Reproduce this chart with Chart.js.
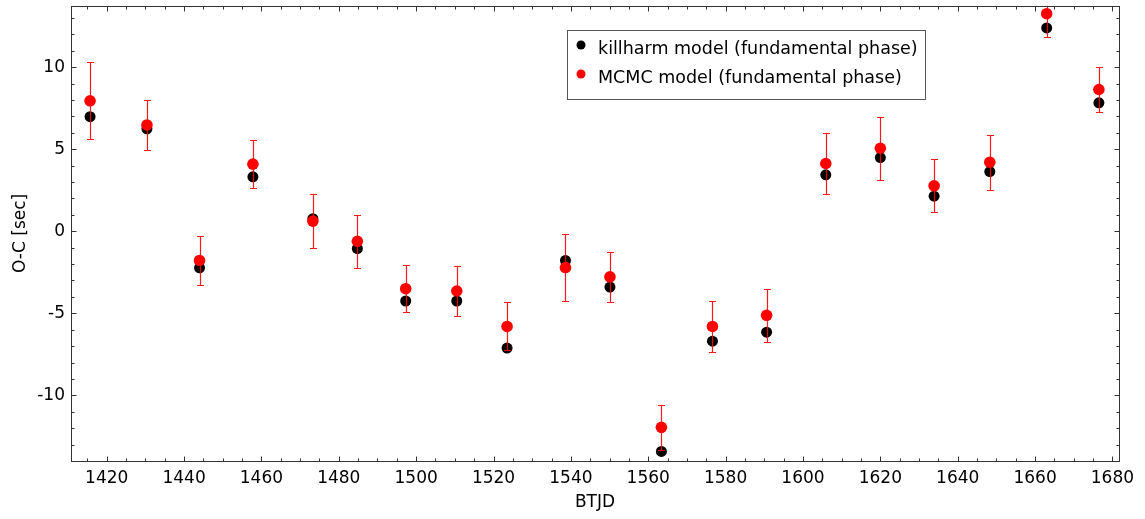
<!DOCTYPE html>
<html>
<head>
<meta charset="utf-8">
<script src="https://cdn.jsdelivr.net/npm/chart.js@4.4.1/dist/chart.umd.min.js"></script>
<style>
  html, body { margin: 0; padding: 0; background: #fff; }
  #wrap { width: 1145px; height: 519px; }
</style>
</head>
<body>
<div id="wrap"><canvas id="c" width="1145" height="519"></canvas></div>
<script>
// Observation epochs (BTJD) and O-C residuals in seconds
const btjd = [1415.7, 1430.4, 1444.0, 1457.8, 1473.3, 1484.8, 1497.3, 1510.5, 1523.5, 1538.6,
              1550.1, 1563.4, 1576.6, 1590.6, 1605.9, 1620.0, 1633.9, 1648.3, 1663.0, 1676.5];
const killharm = [6.98, 6.24, -2.23, 3.32, 0.77, -1.05, -4.25, -4.25, -7.12, -1.78,
                  -3.40, -13.42, -6.70, -6.15, 3.44, 4.49, 2.14, 3.64, 12.39, 7.83];
const mcmc = [7.95, 6.48, -1.78, 4.09, 0.62, -0.61, -3.50, -3.64, -5.80, -2.21,
              -2.78, -11.95, -5.80, -5.12, 4.13, 5.06, 2.77, 4.21, 13.26, 8.64];
const mcmcErr = [2.34, 1.54, 1.48, 1.47, 1.66, 1.61, 1.42, 1.55, 1.46, 2.02,
                 1.53, 1.36, 1.53, 1.60, 1.84, 1.91, 1.61, 1.67, 1.40, 1.35];

const xTicks = [1420, 1440, 1460, 1480, 1500, 1520, 1540, 1560, 1580, 1600, 1620, 1640, 1660, 1680];
const yTicks = [-10, -5, 0, 5, 10];

const FONT = '"DejaVu Sans", "Liberation Sans", sans-serif';
Chart.defaults.font.family = FONT;
Chart.defaults.font.size = 17;
Chart.defaults.color = '#000';

// Red vertical error bars with caps, drawn just before the MCMC points
const errorBars = {
  id: 'errorBars',
  beforeDatasetDraw(chart, args, opts) {
    if (args.index !== opts.datasetIndex) return;
    const { ctx, chartArea: a, scales: { x, y } } = chart;
    ctx.save();
    ctx.beginPath();
    ctx.rect(a.left, a.top, a.right - a.left, a.bottom - a.top);
    ctx.clip();
    ctx.strokeStyle = opts.color;
    ctx.lineWidth = 1.2;
    btjd.forEach((t, i) => {
      const px = Math.round(x.getPixelForValue(t)) + 0.5;
      const hi = Math.round(y.getPixelForValue(mcmc[i] + mcmcErr[i])) + 0.5;
      const lo = Math.round(y.getPixelForValue(mcmc[i] - mcmcErr[i])) + 0.5;
      ctx.beginPath();
      ctx.moveTo(px, hi); ctx.lineTo(px, lo);
      ctx.moveTo(px - opts.cap, hi); ctx.lineTo(px + opts.cap, hi);
      ctx.moveTo(px - opts.cap, lo); ctx.lineTo(px + opts.cap, lo);
      ctx.stroke();
    });
    ctx.restore();
  }
};

// Boxed frame with inward major/minor ticks on all four sides
const frameTicks = {
  id: 'frameTicks',
  afterDatasetsDraw(chart, args, opts) {
    const { ctx, chartArea: a, scales: { x, y } } = chart;
    const L = Math.round(a.left) + 0.5, R = Math.round(a.right) + 0.5;
    const T = Math.round(a.top) + 0.5, B = Math.round(a.bottom) + 0.5;
    ctx.save();
    ctx.strokeStyle = opts.color;
    ctx.lineWidth = 1;
    ctx.strokeRect(L, T, R - L, B - T);
    const seg = (x1, y1, x2, y2) => { ctx.beginPath(); ctx.moveTo(x1, y1); ctx.lineTo(x2, y2); ctx.stroke(); };
    for (let v = Math.ceil(x.min / opts.xMinor) * opts.xMinor; v <= x.max; v += opts.xMinor) {
      const px = Math.round(x.getPixelForValue(v)) + 0.5;
      const len = (v % opts.xMajor === 0) ? opts.major : opts.minor;
      seg(px, B, px, B - len);
      seg(px, T, px, T + len);
    }
    for (let v = Math.ceil(y.min / opts.yMinor) * opts.yMinor; v <= y.max; v += opts.yMinor) {
      const py = Math.round(y.getPixelForValue(v)) + 0.5;
      const len = (v % opts.yMajor === 0) ? opts.major : opts.minor;
      seg(L, py, L + len, py);
      seg(R, py, R - len, py);
    }
    ctx.restore();
  }
};

// Legend box placed inside the plotting area
const boxLegend = {
  id: 'boxLegend',
  afterDraw(chart, args, opts) {
    const { ctx, chartArea: a } = chart;
    const left = Math.round(a.left + opts.offsetX), top = Math.round(a.top + opts.offsetY);
    ctx.save();
    ctx.fillStyle = '#fff';
    ctx.fillRect(left, top, opts.width, opts.height);
    ctx.strokeStyle = '#555';
    ctx.lineWidth = 1;
    ctx.strokeRect(left + 0.5, top + 0.5, opts.width, opts.height);
    ctx.font = opts.fontSize + 'px ' + FONT;
    ctx.textBaseline = 'middle';
    chart.data.datasets.forEach((ds, i) => {
      const cy = top + opts.rowTop + i * opts.rowGap;
      ctx.fillStyle = ds.backgroundColor;
      ctx.beginPath();
      ctx.arc(left + opts.markerX, cy - 4, 4.5, 0, Math.PI * 2);
      ctx.fill();
      ctx.fillStyle = '#000';
      ctx.fillText(ds.label, left + opts.textX, cy);
    });
    ctx.restore();
  }
};

const toPoints = (ys) => btjd.map((t, i) => ({ x: t, y: ys[i] }));

new Chart(document.getElementById('c'), {
  type: 'scatter',
  data: {
    datasets: [
      {
        label: 'killharm model (fundamental phase)',
        data: toPoints(killharm),
        backgroundColor: '#000000',
        borderWidth: 0,
        pointRadius: 5.5,
        order: 2
      },
      {
        label: 'MCMC model (fundamental phase)',
        data: toPoints(mcmc),
        backgroundColor: '#ff0000',
        borderWidth: 0,
        pointRadius: 5.8,
        order: 1
      }
    ]
  },
  options: {
    responsive: false,
    animation: false,
    devicePixelRatio: 1,
    layout: { padding: { left: 0, right: 26, top: -2, bottom: 0 } },
    plugins: {
      legend: { display: false },
      tooltip: { enabled: false },
      errorBars: { datasetIndex: 1, color: 'rgba(255,0,0,0.9)', cap: 3.5 },
      frameTicks: { color: '#333', xMinor: 5, xMajor: 20, yMinor: 1, yMajor: 5, major: 5, minor: 3 },
      boxLegend: { offsetX: 496, offsetY: 24, width: 358, height: 69, rowTop: 19, rowGap: 29,
                   markerX: 14, textX: 31, fontSize: 17.5 }
    },
    scales: {
      x: {
        type: 'linear',
        position: 'bottom',
        min: 1410.77,
        max: 1681.7,
        grid: { display: false, drawTicks: false },
        border: { display: false },
        afterBuildTicks: (s) => { s.ticks = xTicks.map(v => ({ value: v })); },
        afterFit: (s) => { s.height = 58; s.paddingLeft = 0; s.paddingRight = 0; },
        ticks: { padding: 7, maxRotation: 0, autoSkip: false, callback: (v) => String(v) },
        title: { display: true, text: 'BTJD', padding: { top: 0, bottom: 6 } }
      },
      y: {
        type: 'linear',
        position: 'left',
        min: -14.0,
        max: 13.74,
        grid: { display: false, drawTicks: false },
        border: { display: false },
        afterBuildTicks: (s) => { s.ticks = yTicks.map(v => ({ value: v })); },
        afterFit: (s) => { s.width = 71; s.paddingTop = 0; s.paddingBottom = 0; },
        ticks: { padding: 6, autoSkip: false, callback: (v) => String(v) },
        title: { display: true, text: 'O-C [sec]', padding: { top: 10, bottom: 0 } }
      }
    }
  },
  plugins: [errorBars, frameTicks, boxLegend]
});
</script>
</body>
</html>
